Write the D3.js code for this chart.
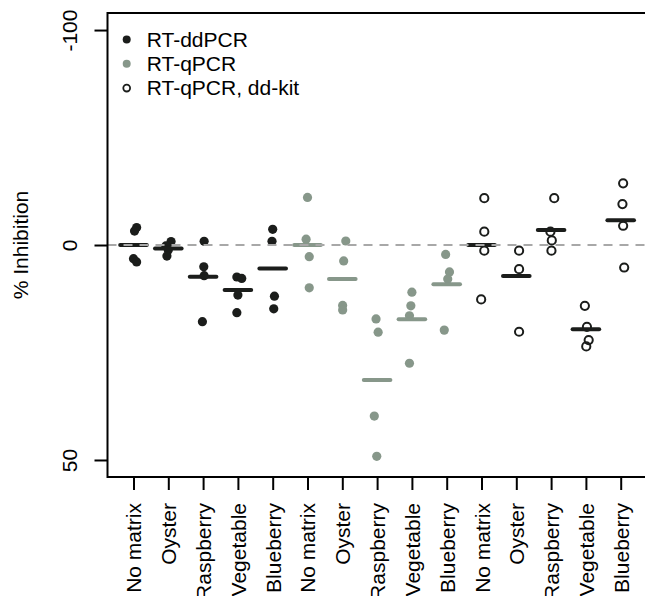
<!DOCTYPE html>
<html>
<head>
<meta charset="utf-8">
<script src="https://cdn.jsdelivr.net/npm/d3@7"></script>
<style>
  html, body { margin: 0; padding: 0; background: #fff; }
  svg { display: block; }
  text { font-family: "Liberation Sans", Arial, "DejaVu Sans", sans-serif; }
</style>
</head>
<body>
<svg id="chart" width="645" height="596"></svg>
<script>
// ---------- data (% inhibition) ----------
const matrices = ["No matrix", "Oyster", "Raspberry", "Vegetable", "Blueberry"];
const methods = ["RT-ddPCR", "RT-qPCR", "RT-qPCR, dd-kit"];
const yTickValues = [-100, 0, 50];
const yTickLabels = ["-100", "0", "50"];

const ddPCR = [
  [-5.8, -4.6, 4.3, 5.3],
  [-1.1, 0.3, 1.6, 3.5],
  [-1.2, 6.8, 9.4, 21.9],
  [9.8, 10.2, 14.9, 19.6],
  [-5.2, -1.2, 15.2, 18.6]
];
const ddPCRJitter = [
  [0.09, 0.03, 0, 0.09],
  [0.08, -0.07, 0, -0.04],
  [0.03, 0.02, 0.03, -0.02],
  [-0.03, 0.11, 0, -0.03],
  [0, -0.02, 0.05, 0.03]
];
const ddPCRMeans = [0, 1.1, 9.7, 13.5, 7.3];

const qPCR = [
  [-16.6, -1.9, 3.7, 12.9],
  [-1.3, 5.0, 17.7, 18.9],
  [21.2, 24.5, 42.4, 49.4],
  [14.1, 17.8, 20.4, 31.7],
  [3.0, 8.3, 10.4, 24.0]
];
const qPCRJitter = [
  [0, -0.04, 0.05, 0.05],
  [0.1, 0.04, 0.01, 0.01],
  [-0.03, 0.03, -0.08, -0.01],
  [0, -0.03, -0.07, -0.07],
  [-0.03, 0.08, 0.03, -0.07]
];
const qPCRMeans = [0, 10.4, 35.3, 21.3, 11.9];

const ddKit = [
  [-16.3, -4.4, 1.8, 16.1],
  [1.8, 7.5, 24.4],
  [-16.3, -4.4, -1.5, 1.8],
  [17.8, 23.2, 26.4, 27.9],
  [-22.0, -14.1, -6.4, 7.0]
];
const ddKitJitter = [
  [0.08, 0.08, 0.08, -0.01],
  [0.08, 0.08, 0.08],
  [0.09, -0.02, 0.02, 0.01],
  [-0.03, 0.03, 0.08, 0.01],
  [0.07, 0.05, 0.07, 0.1]
];
const ddKitMeans = [0, 9.5, -5.0, 23.8, -8.3];

// ---------- layout ----------
const BLACK = "#1b1d1b";
const GREY = "#87978a";
const FONT = 21;
const plotLeft = 107.5, plotRight = 646.7, plotTop = 13, plotBottom = 477;

const svg = d3.select("#chart");

const categories = methods.flatMap(() => matrices);
const x = d3.scaleLinear().domain([0.253, categories.length + 0.747]).range([plotLeft, plotRight]);
// % inhibition shown on a log2 scale of the ratio (1 - v/100)
const yLog = d3.scaleLog().base(2).domain([0.4733, 2.113]).range([plotBottom, plotTop]);
const ratio = v => 1 - v / 100;
const y = v => yLog(ratio(v));

const series = [
  { values: ddPCR, jitter: ddPCRJitter, means: ddPCRMeans, color: BLACK, open: false },
  { values: qPCR, jitter: qPCRJitter, means: qPCRMeans, color: GREY, open: false },
  { values: ddKit, jitter: ddKitJitter, means: ddKitMeans, color: BLACK, open: true }
];

const pts = [];
const meanRows = [];
series.forEach((s, si) => {
  s.values.forEach((arr, mi) => {
    const pos = si * matrices.length + mi + 1;
    arr.forEach((v, k) => pts.push({ pos: pos + s.jitter[mi][k], v, s }));
    meanRows.push({ pos, v: s.means[mi], s });
  });
});

// points
svg.append("g").selectAll("circle").data(pts).join("circle")
  .attr("cx", d => x(d.pos))
  .attr("cy", d => y(d.v))
  .attr("r", d => d.s.open ? 4.1 : 4.6)
  .attr("fill", d => d.s.open ? "none" : d.s.color)
  .attr("stroke", d => d.s.open ? d.s.color : "none")
  .attr("stroke-width", d => d.s.open ? 2 : 0);

// mean lines
svg.append("g").selectAll("line").data(meanRows).join("line")
  .attr("x1", d => x(d.pos) - 13.3)
  .attr("x2", d => x(d.pos) + 13.3)
  .attr("y1", d => y(d.v))
  .attr("y2", d => y(d.v))
  .attr("stroke", d => d.s.color)
  .attr("stroke-width", 4)
  .attr("stroke-linecap", "round");

// dashed reference at 0
svg.append("line")
  .attr("x1", plotLeft).attr("x2", plotRight)
  .attr("y1", y(0)).attr("y2", y(0))
  .attr("stroke", "#a8a8a8")
  .attr("stroke-width", 2)
  .attr("stroke-dasharray", "9,7");

// box (right side falls outside the page)
svg.append("path")
  .attr("d", `M${plotRight},${plotTop}H${plotLeft}V${plotBottom}H${plotRight}Z`)
  .attr("fill", "none").attr("stroke", "#000").attr("stroke-width", 2);

// y axis
const yAxis = d3.axisLeft(yLog)
  .tickValues(yTickValues.map(ratio))
  .tickFormat((d, i) => yTickLabels[i])
  .tickSize(13).tickSizeOuter(0);
const gy = svg.append("g").attr("transform", `translate(${plotLeft},0)`).call(yAxis);
gy.select(".domain").remove();
gy.selectAll(".tick line").attr("stroke", "#000").attr("stroke-width", 2);
gy.selectAll(".tick text")
  .attr("x", 0).attr("y", -30.5).attr("dy", 0)
  .attr("text-anchor", "middle")
  .attr("transform", "rotate(-90)")
  .attr("font-size", FONT).attr("fill", "#000")
  .style("font-family", '"Liberation Sans", Arial, sans-serif');

// x axis
const xAxis = d3.axisBottom(x)
  .tickValues(d3.range(1, categories.length + 1))
  .tickFormat((d, i) => categories[i])
  .tickSize(13).tickSizeOuter(0);
const gx = svg.append("g").attr("transform", `translate(0,${plotBottom})`).call(xAxis);
gx.select(".domain").remove();
gx.selectAll(".tick line").attr("stroke", "#000").attr("stroke-width", 2);
gx.selectAll(".tick text")
  .attr("x", -26).attr("y", 7.5).attr("dy", 0)
  .attr("text-anchor", "end")
  .attr("transform", "rotate(-90)")
  .attr("font-size", FONT).attr("fill", "#000")
  .style("font-family", '"Liberation Sans", Arial, sans-serif');

// y label
svg.append("text")
  .attr("transform", `translate(28,${y(0)}) rotate(-90)`)
  .attr("text-anchor", "middle")
  .attr("font-size", FONT)
  .text("% Inhibition");

// legend
const legendItems = methods.map((m, i) => ({ label: m, s: series[i] }));
const lg = svg.append("g").selectAll("g").data(legendItems).join("g")
  .attr("transform", (d, i) => `translate(126.7,${39.5 + i * 24.3})`);
lg.append("circle")
  .attr("r", d => d.s.open ? 3.4 : 4)
  .attr("fill", d => d.s.open ? "none" : d.s.color)
  .attr("stroke", d => d.s.open ? d.s.color : "none")
  .attr("stroke-width", d => d.s.open ? 1.8 : 0);
lg.append("text")
  .attr("x", 20).attr("y", 7.3)
  .attr("font-size", FONT)
  .attr("fill", "#000")
  .text(d => d.label);
</script>
</body>
</html>
